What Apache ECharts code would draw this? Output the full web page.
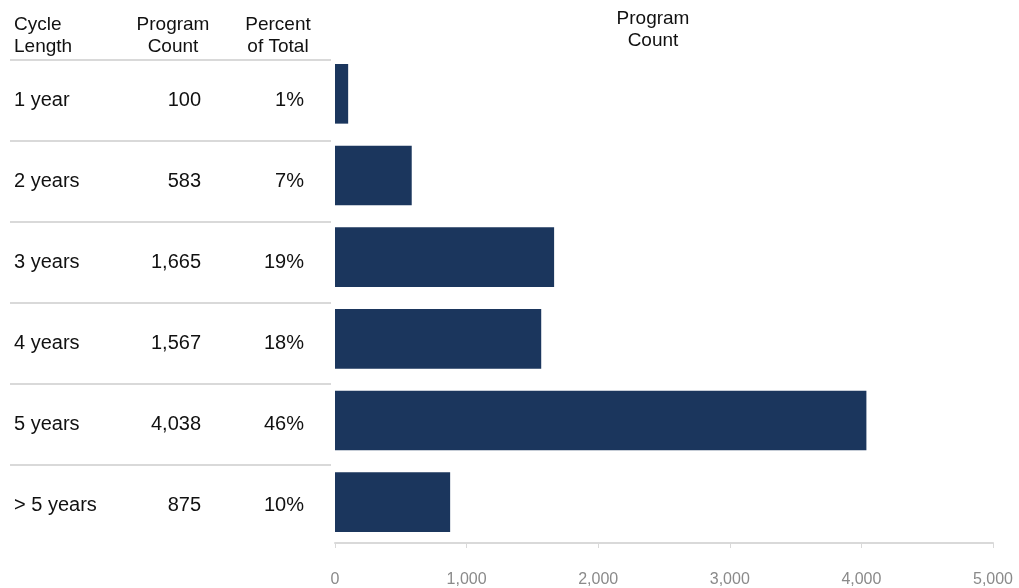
<!DOCTYPE html>
<html><head><meta charset="utf-8">
<script src="https://cdn.jsdelivr.net/npm/echarts@6/dist/echarts.min.js"></script>
<style>html,body{margin:0;padding:0;background:#fff}#c{width:1019px;height:588px}</style>
</head><body><div id="c"></div>
<script>
const categories = ['1 year','2 years','3 years','4 years','5 years','> 5 years'];
const programCount = [100, 583, 1665, 1567, 4038, 875];
const percentOfTotal = ['1%','7%','19%','18%','46%','10%'];
const xTicks = [0, 1000, 2000, 3000, 4000, 5000];

const FONT = 'Liberation Sans, Arial, sans-serif';
const chart = echarts.init(document.getElementById('c'));
const fmt = v => v.toLocaleString('en-US');
const hdr = {fontFamily: FONT, fontSize: 19, fontWeight: 'normal', color: '#111', lineHeight: 22};

chart.setOption({
  animation: false,
  title: [
    {text: 'Cycle\nLength', left: 14, top: 14, padding: 0, textStyle: hdr},
    {text: 'Program\nCount', left: 173, top: 14, padding: 0, textAlign: 'center', textStyle: Object.assign({align: 'center'}, hdr)},
    {text: 'Percent\nof Total', left: 278, top: 14, padding: 0, textAlign: 'center', textStyle: Object.assign({align: 'center'}, hdr)},
    {text: 'Program\nCount', left: 653, top: 8, padding: 0, textAlign: 'center', textStyle: Object.assign({align: 'center'}, hdr)}
  ],
  grid: [
    {left: 335, right: 26, top: 53, bottom: 44},
    {left: 10, width: 321, top: 60, bottom: 42}
  ],
  xAxis: [
    {type: 'value', gridIndex: 0, min: xTicks[0], max: xTicks[xTicks.length-1], interval: 1000,
     axisLine: {show: true, lineStyle: {color: '#d9d9d9', width: 2}},
     axisTick: {show: true, length: 5, lineStyle: {color: '#d9d9d9', width: 1}},
     splitLine: {show: false},
     axisLabel: {margin: 29, color: '#8a8a8a', fontFamily: FONT, fontSize: 16, formatter: v => fmt(v)}},
    {type: 'value', gridIndex: 1, min: 0, max: 1, show: false}
  ],
  yAxis: [
    {type: 'category', gridIndex: 0, data: categories, inverse: true,
     axisLine: {show: false}, axisTick: {show: false}, axisLabel: {show: false}},
    {type: 'category', gridIndex: 1, data: categories, inverse: true,
     axisLine: {show: false}, axisTick: {show: false},
     axisLabel: {show: true, inside: true, margin: 4,
       formatter: (v, i) => `{a|${v}}{b|${fmt(programCount[i])}}{c|${percentOfTotal[i]}}`,
       rich: {
         a: {width: 107, align: 'left', fontFamily: FONT, fontSize: 20, color: '#111'},
         b: {width: 80, align: 'right', fontFamily: FONT, fontSize: 20, color: '#111'},
         c: {width: 103, align: 'right', fontFamily: FONT, fontSize: 20, color: '#111'}
       }}}
  ],
  series: [
    {type: 'bar', xAxisIndex: 0, yAxisIndex: 0, data: programCount, barWidth: '73%',
     itemStyle: {color: '#1b365d'}},
    {type: 'custom', xAxisIndex: 1, yAxisIndex: 1, silent: true,
     data: categories.map((c, i) => [0, i]),
     renderItem: (params, api) => {
       const p0 = api.coord([0, api.value(1)]);
       const p1 = api.coord([1, api.value(1)]);
       const h = api.size([0, 1])[1];
       const y = Math.round(p0[1] - h / 2);
       return {type: 'line', shape: {x1: p0[0], y1: y, x2: p1[0], y2: y},
               style: {stroke: '#d9d9d9', lineWidth: 2}};
     }}
  ]
});
</script></body></html>
